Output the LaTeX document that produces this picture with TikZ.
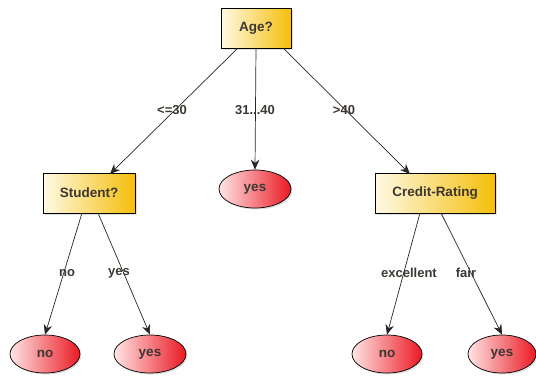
\documentclass[tikz,border=0pt]{standalone}
\usepackage{fontspec}
\setmainfont{Liberation Sans}
\usetikzlibrary{arrows.meta,shapes.geometric,shadows}
\definecolor{txt}{RGB}{60,55,50}
\definecolor{gold}{RGB}{245,190,10}
\definecolor{cream}{RGB}{255,250,228}
\definecolor{redend}{RGB}{235,25,35}
\definecolor{pinkend}{RGB}{255,228,228}
\tikzset{
  testbox/.style={draw=black, line width=0.7pt, left color=cream, right color=gold,
    minimum height=40pt, inner sep=0pt, font=\bfseries\fontsize{13.5}{15}\selectfont, text=txt,
    drop shadow={shadow xshift=1.5pt, shadow yshift=-1.5pt, opacity=0.25}},
  leaf/.style={ellipse, draw=black, line width=0.7pt, left color=pinkend, right color=redend,
    minimum width=70pt, minimum height=38pt, inner sep=0pt,
    font=\bfseries\fontsize{13.5}{15}\selectfont, text=txt,
    drop shadow={shadow xshift=1.5pt, shadow yshift=-1.5pt, opacity=0.25}},
  branch/.style={draw=black!85, line width=0.7pt, -{Stealth[length=10pt,width=8.5pt]}},
  lbl/.style={font=\bfseries\fontsize{13}{15}\selectfont, text=txt, inner sep=0pt}
}
\begin{document}
\begin{tikzpicture}[x=1pt,y=-1pt]
\useasboundingbox (0,0) rectangle (536,378);
% decision nodes
\node[testbox, minimum width=70pt] (age) at (256,28) {Age?};
\node[testbox, minimum width=92pt] (student) at (89,193) {Student?};
\node[testbox, minimum width=120pt] (credit) at (435,193) {Credit-Rating};
% leaves
\node[leaf, minimum width=72pt] (ymid) at (255,189) {yes};
\node[leaf] (no1) at (45,354) {no};
\node[leaf, minimum width=72pt] (yes1) at (150,354) {yes};
\node[leaf] (no2) at (387,354) {no};
\node[leaf, minimum width=68pt] (yes2) at (502,354) {yes};
% attachment points on the box edges
\coordinate (a1) at (238,48);
\coordinate (a2) at (256,48);
\coordinate (a3) at (283,48);
\coordinate (s1) at (82,213);
\coordinate (s2) at (98,213);
\coordinate (c1) at (420,213);
\coordinate (c2) at (441,213);
% branches
\draw[branch] (a1) -- (110,174) coordinate (t1);
\draw[branch] (a2) -- (ymid.north);
\draw[branch] (a3) -- (410,174) coordinate (t3);
\draw[branch] (s1) -- (no1.north);
\draw[branch] (s2) -- (yes1.north);
\draw[branch] (c1) -- (no2.north);
\draw[branch] (c2) -- (yes2.north);
% branch labels
\node[lbl] (l1) at (172,110) {<=30};
\node[lbl] (l2) at (255,110) {31...40};
\node[lbl] (l3) at (344,110) {>40};
\node[lbl] (l4) at (67,273) {no};
\node[lbl] (l5) at (119,273) {yes};
\node[lbl] (l6) at (409,273) {excellent};
\node[lbl] (l7) at (466,273) {fair};
\end{tikzpicture}
\end{document}
